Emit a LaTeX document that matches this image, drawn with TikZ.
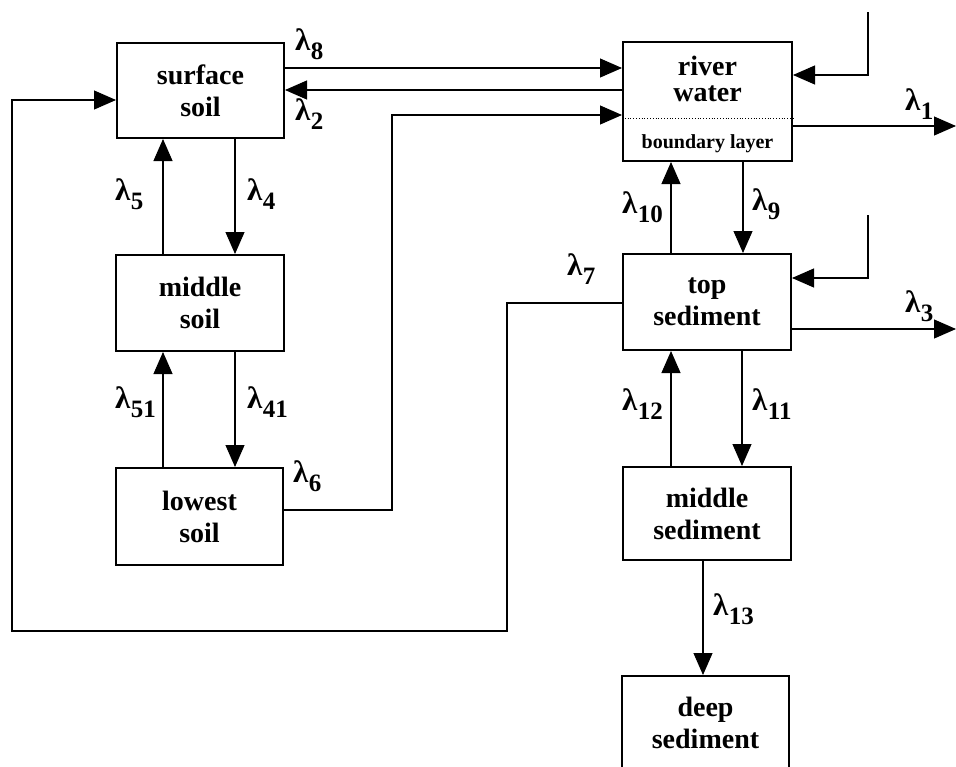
\documentclass[tikz,border=0pt]{standalone}
\usepackage{fontspec}
\setmainfont{Liberation Serif}
\usetikzlibrary{arrows.meta}
\newcommand\lmb[1]{{\fontsize{31}{31}\selectfont λ}\kern0.5pt\raisebox{-9pt}{#1}}
\begin{document}
\begin{tikzpicture}[x=1pt,y=-1pt,
  box/.style={draw, line width=2pt, inner sep=0pt, align=center,
    font=\fontsize{28}{32}\selectfont\bfseries},
  arr/.style={line width=1.1pt, -{Triangle[length=22pt,width=19pt]}},
  con/.style={line width=1.1pt},
  lab/.style={font=\fontsize{25}{25}\selectfont\bfseries, inner sep=0pt, anchor=base west},
  txt/.style={font=\fontsize{28}{26}\selectfont\bfseries, inner sep=0pt, align=center},
  small/.style={font=\fontsize{20}{22}\selectfont\bfseries, inner sep=0pt, anchor=base}]
\useasboundingbox (0,0) rectangle (956,766);
% boxes
\node[box, minimum width=167pt, minimum height=95pt] (ss) at (200.5,90.5) {surface\\soil};
\node[box, minimum width=168pt, minimum height=96pt] (ms) at (200,303) {middle\\soil};
\node[box, minimum width=167pt, minimum height=97pt] (ls) at (199.5,516.5) {lowest\\soil};
\node[box, minimum width=169pt, minimum height=119pt] (rw) at (707.5,101.5) {};
\node[txt] (rwa) at (707.5,79) {river\\water};
\node[small] (rwc) at (707.5,148) {boundary layer};
\draw[dotted, line width=0.8pt] (rw.west |- 0,118) -- (rw.east |- 0,118);
\node[box, minimum width=168pt, minimum height=96pt] (ts) at (707,302) {top\\sediment};
\node[box, minimum width=168pt, minimum height=93pt] (msd) at (707,513.5) {middle\\sediment};
\node[box, minimum width=167pt, minimum height=94pt] (ds) at (705.5,723) {deep\\sediment};
% free ends
\coordinate (in1) at (868,12);
\coordinate (in2) at (868,215);
\coordinate (out1) at (956,126);
\coordinate (out2) at (956,329);
% connectors
\draw[arr] (ss.east |- 0,68) -- (rw.west |- 0,68);
\draw[arr] (rw.west |- 0,90) -- (ss.east |- 0,90);
\draw[arr] (ls.east |- 0,510) -| (392,115) -- (rw.west |- 0,115);
\draw[arr] (ts.west |- 0,303) -| (507,631) -| (12,100) -- (ss.west |- 0,100);
\draw[arr] (ss.south -| 235,0) -- (ms.north -| 235,0);
\draw[arr] (ms.north -| 163,0) -- (ss.south -| 163,0);
\draw[arr] (ms.south -| 235,0) -- (ls.north -| 235,0);
\draw[arr] (ls.north -| 163,0) -- (ms.south -| 163,0);
\draw[arr] (rw.south -| 743,0) -- (ts.north -| 743,0);
\draw[arr] (ts.north -| 671,0) -- (rw.south -| 671,0);
\draw[arr] (ts.south -| 742,0) -- (msd.north -| 742,0);
\draw[arr] (msd.north -| 671,0) -- (ts.south -| 671,0);
\draw[arr] (msd.south -| 703,0) -- (ds.north -| 703,0);
\draw[arr] (in1) |- (rw.east |- 0,75);
\draw[arr] (rw.east |- 0,126) -- (out1);
\draw[arr] (in2) |- (ts.east |- 0,278);
\draw[arr] (ts.east |- 0,329) -- (out2);
% labels
\node[lab] (l8) at (295,50) {\lmb{8}};
\node[lab] (l2) at (295,120) {\lmb{2}};
\node[lab] (l5) at (115,200) {\lmb{5}};
\node[lab] (l4) at (247,200) {\lmb{4}};
\node[lab] (l51) at (115,408) {\lmb{51}};
\node[lab] (l41) at (247,408) {\lmb{41}};
\node[lab] (l6) at (293,482) {\lmb{6}};
\node[lab] (l1) at (905,110) {\lmb{1}};
\node[lab] (l10) at (622,213) {\lmb{10}};
\node[lab] (l9) at (752,210) {\lmb{9}};
\node[lab] (l7) at (567,275) {\lmb{7}};
\node[lab] (l3) at (905,312) {\lmb{3}};
\node[lab] (l12) at (622,410) {\lmb{12}};
\node[lab] (l11) at (752,410) {\lmb{11}};
\node[lab] (l13) at (713,615) {\lmb{13}};
\end{tikzpicture}
\end{document}
